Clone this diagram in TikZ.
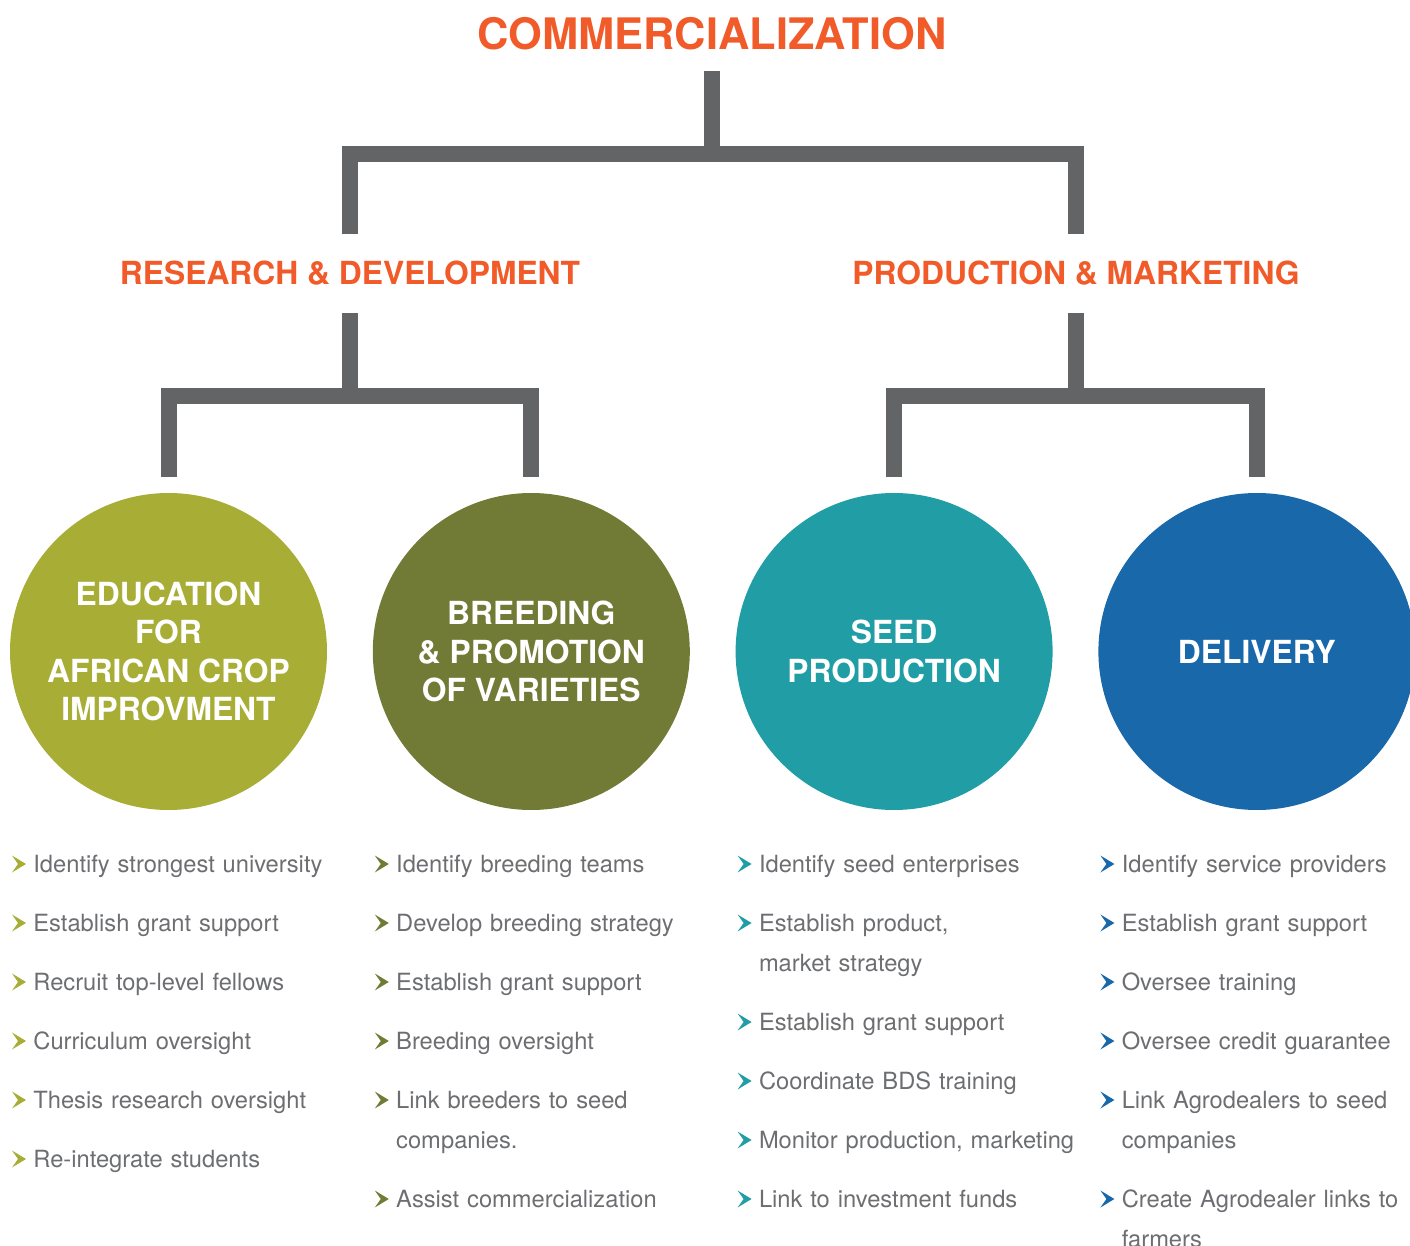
\documentclass[tikz,border=0pt]{standalone}
\usepackage{fontspec}
\setmainfont{TeX Gyre Heros}
\usepackage{tikz}
\usepackage{xcolor}
\usetikzlibrary{positioning}

\definecolor{accent}{RGB}{241,90,41}
\definecolor{trunkgray}{RGB}{99,100,102}
\definecolor{bodygray}{RGB}{109,110,113}
\definecolor{edugreen}{RGB}{168,173,54}
\definecolor{breedolive}{RGB}{114,123,54}
\definecolor{seedteal}{RGB}{33,157,166}
\definecolor{deliveryblue}{RGB}{24,104,170}

\begin{document}
\begin{tikzpicture}[
    x=0.5pt, y=-0.5pt,
    heading/.style={
        anchor=base,
        inner sep=0pt,
        text=accent,
        font=\bfseries\fontsize{15.9}{19}\selectfont
    },
    trunk/.style={
        draw=trunkgray,
        line width=8pt,
        line join=miter
    },
    stage/.style={
        circle,
        fill=#1,
        minimum size=158.5pt,
        inner sep=0pt,
        outer sep=0pt,
        text=white,
        align=center,
        font=\bfseries\fontsize{15.9}{19.15}\selectfont
    },
    item/.style={
        anchor=base west,
        inner sep=0pt,
        text width=170pt,
        align=left,
        text=bodygray,
        font=\fontsize{11.85}{20}\selectfont,
        append after command={\pgfextra{
            \fill[#1] ([xshift=-10.5pt]\tikzlastnode.base west)
                -- ++(7pt,4.25pt) -- ++(-7pt,4.25pt) -- ++(3pt,-4.25pt) -- cycle;}}
    }
]
    \useasboundingbox (0,0) rectangle (1410,1246);

    % 1. Top heading
    \node (comm) [heading, font=\bfseries\fontsize{21.7}{26}\selectfont] at (712,50) {COMMERCIALIZATION};

    % 2. Second level headings
    \node (rd) [heading] at (350,285) {RESEARCH \& DEVELOPMENT};
    \node (pm) [heading] at (1076,285) {PRODUCTION \& MARKETING};

    % 3. The four circles
    \node (edu) [stage=edugreen] at (168.5,651.5) {EDUCATION\\FOR\\AFRICAN CROP\\IMPROVMENT};
    \node (breed) [stage=breedolive, right=22.9pt of edu] {BREEDING\\\& PROMOTION\\OF VARIETIES};
    \node (seed) [stage=seedteal, right=22.9pt of breed] {SEED\\PRODUCTION};
    \node (deliv) [stage=deliveryblue, right=22.9pt of seed] {DELIVERY};

    % Tree lines
    \draw[trunk] ([yshift=-10pt]comm.south) -- ++(0,83) coordinate (commsplit);
    \draw[trunk] ([yshift=13.5pt]rd.north) |- (commsplit) -| ([yshift=13.5pt]pm.north);

    \draw[trunk] ([yshift=-13.5pt]rd.south) -- ++(0,83) coordinate (rdsplit);
    \draw[trunk] ([yshift=7.75pt]edu.north) |- (rdsplit) -| ([yshift=7.75pt]breed.north);

    \draw[trunk] ([yshift=-13.5pt]pm.south) -- ++(0,83) coordinate (pmsplit);
    \draw[trunk] ([yshift=7.75pt]seed.north) |- (pmsplit) -| ([yshift=7.75pt]deliv.north);

    % 4. Education tasks
    \node (edu1) [below=31.25pt of edu, item=edugreen, xshift=-67.75pt] {Identify strongest university};
    \node (edu2) [below=29.5pt of edu1.base west, item=edugreen] {Establish grant support};
    \node (edu3) [below=29.5pt of edu2.base west, item=edugreen] {Recruit top-level fellows};
    \node (edu4) [below=29.5pt of edu3.base west, item=edugreen] {Curriculum oversight};
    \node (edu5) [below=29.5pt of edu4.base west, item=edugreen] {Thesis research oversight};
    \node (edu6) [below=29.5pt of edu5.base west, item=edugreen] {Re-integrate students};

    % 5. Breeding tasks
    \node (breed1) [below=31.25pt of breed, item=breedolive, xshift=-67.75pt] {Identify breeding teams};
    \node (breed2) [below=29.5pt of breed1.base west, item=breedolive] {Develop breeding strategy};
    \node (breed3) [below=29.5pt of breed2.base west, item=breedolive] {Establish grant support};
    \node (breed4) [below=29.5pt of breed3.base west, item=breedolive] {Breeding oversight};
    \node (breed5) [below=29.5pt of breed4.base west, item=breedolive] {Link breeders to seed\\companies.};
    \node (breed6) [below=49.5pt of breed5.base west, item=breedolive] {Assist commercialization};

    % 6. Seed production tasks
    \node (seed1) [below=31.25pt of seed, item=seedteal, xshift=-67.75pt] {Identify seed enterprises};
    \node (seed2) [below=29.5pt of seed1.base west, item=seedteal] {Establish product,\\market strategy};
    \node (seed3) [below=49.5pt of seed2.base west, item=seedteal] {Establish grant support};
    \node (seed4) [below=29.5pt of seed3.base west, item=seedteal] {Coordinate BDS training};
    \node (seed5) [below=29.5pt of seed4.base west, item=seedteal] {Monitor production, marketing};
    \node (seed6) [below=29.5pt of seed5.base west, item=seedteal] {Link to investment funds};

    % 7. Delivery tasks
    \node (deliv1) [below=31.25pt of deliv, item=deliveryblue, xshift=-67.75pt] {Identify service providers};
    \node (deliv2) [below=29.5pt of deliv1.base west, item=deliveryblue] {Establish grant support};
    \node (deliv3) [below=29.5pt of deliv2.base west, item=deliveryblue] {Oversee training};
    \node (deliv4) [below=29.5pt of deliv3.base west, item=deliveryblue] {Oversee credit guarantee};
    \node (deliv5) [below=29.5pt of deliv4.base west, item=deliveryblue] {Link Agrodealers to seed\\companies};
    \node (deliv6) [below=49.5pt of deliv5.base west, item=deliveryblue] {Create Agrodealer links to\\farmers};

\end{tikzpicture}
\end{document}
